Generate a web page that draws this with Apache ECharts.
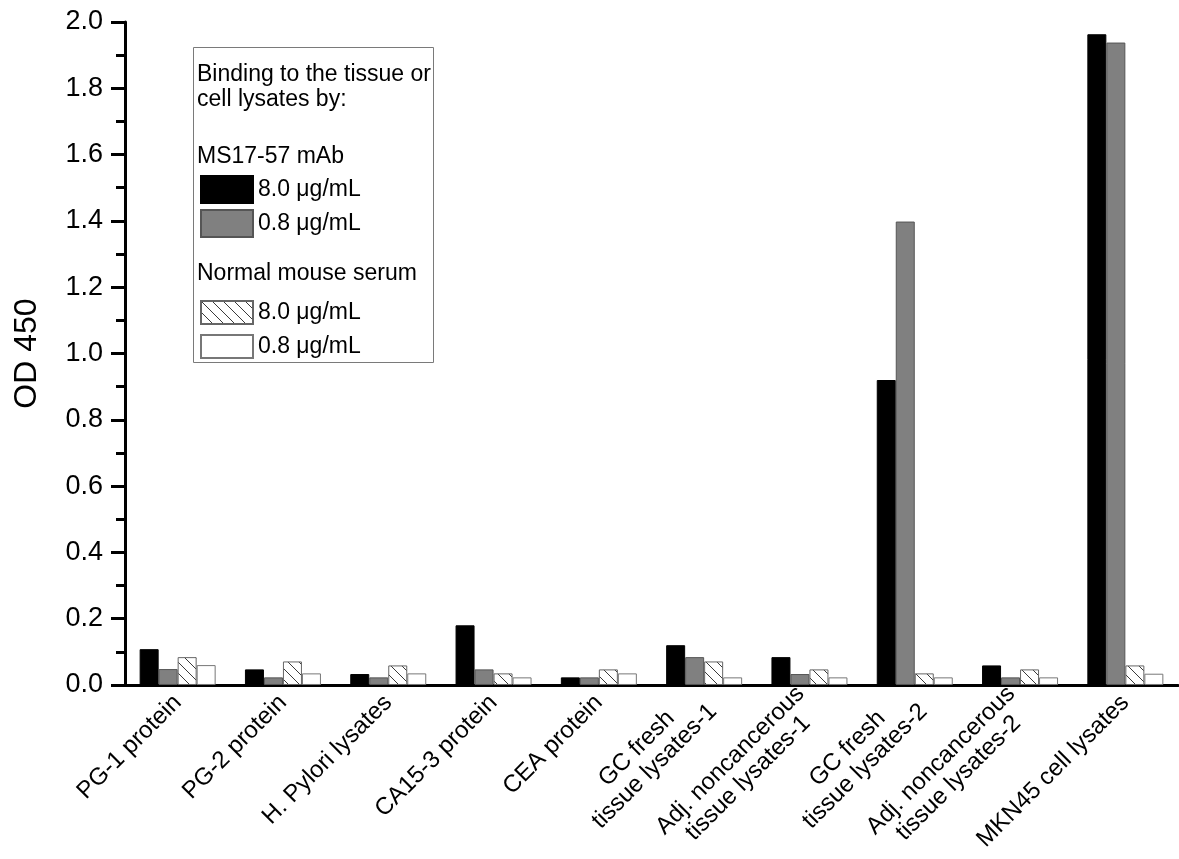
<!DOCTYPE html>
<html>
<head>
<meta charset="utf-8">
<script src="https://cdn.jsdelivr.net/npm/echarts@6/dist/echarts.min.js"></script>
<style>
  html, body { margin: 0; padding: 0; background: #fff; }
  #chart { width: 1179px; height: 859px; }
</style>
</head>
<body>
<div id="chart"></div>
<script>
// Samples on the x axis
const categories = [
  'PG-1 protein',
  'PG-2 protein',
  'H. Pylori lysates',
  'CA15-3 protein',
  'CEA protein',
  'GC fresh\ntissue lysates-1',
  'Adj. noncancerous\ntissue lysates-1',
  'GC fresh\ntissue lysates-2',
  'Adj. noncancerous\ntissue lysates-2',
  'MKN45 cell lysates'
];

// OD 450 readings
const mab80 = [0.108, 0.047, 0.033, 0.180, 0.023, 0.120, 0.084, 0.920, 0.059, 1.963];
const mab08 = [0.048, 0.023, 0.023, 0.047, 0.023, 0.084, 0.033, 1.398, 0.023, 1.938];
const nms80 = [0.084, 0.071, 0.059, 0.035, 0.047, 0.071, 0.047, 0.035, 0.047, 0.059];
const nms08 = [0.060, 0.035, 0.035, 0.023, 0.035, 0.023, 0.023, 0.023, 0.023, 0.034];

// Y axis scale
const yMin = 0;
const yMax = 2.0;
const yStep = 0.2;

const FONT = '"Liberation Sans", Arial, Helvetica, sans-serif';

// Diagonal "\" hatch used for the normal mouse serum 8.0 µg/mL bars
function hatchCanvas() {
  const s = 11;
  const c = document.createElement('canvas');
  c.width = s; c.height = s;
  const g = c.getContext('2d');
  g.fillStyle = '#ffffff';
  g.fillRect(0, 0, s, s);
  g.strokeStyle = '#3a3a3a';
  g.lineWidth = 1;
  g.beginPath();
  g.moveTo(-1, -1); g.lineTo(s + 1, s + 1);
  g.stroke();
  return c;
}
const hatch = { image: hatchCanvas(), repeat: 'repeat' };

const chart = echarts.init(document.getElementById('chart'), null, { renderer: 'canvas' });

const barBase = { type: 'bar', barWidth: 19, barGap: '0%' };
const legendText = { fontSize: 23, fontFamily: FONT, color: '#000' };
const legendLabel = name => name.split('|')[1];

chart.setOption({
  animation: false,
  backgroundColor: '#fff',
  textStyle: { fontFamily: FONT, color: '#000' },
  grid: { left: 125, right: 1, top: 22, bottom: 174, containLabel: false },
  legend: [
    {
      data: ['MS17-57 mAb|8.0 μg/mL', 'MS17-57 mAb|0.8 μg/mL'],
      orient: 'vertical', left: 200, top: 175, padding: 0,
      icon: 'rect', itemWidth: 52, itemHeight: 27, itemGap: 5,
      selectedMode: false, formatter: legendLabel, textStyle: legendText
    },
    {
      data: ['Normal mouse serum|8.0 μg/mL', 'Normal mouse serum|0.8 μg/mL'],
      orient: 'vertical', left: 200, top: 300, padding: 0,
      icon: 'rect', itemWidth: 52, itemHeight: 23, itemGap: 9,
      selectedMode: false, formatter: legendLabel, textStyle: legendText
    }
  ],
  graphic: [
    {
      type: 'rect', z: 1,
      shape: { x: 193.5, y: 47.5, width: 240, height: 315 },
      style: { fill: '#fff', stroke: '#7a7a7a', lineWidth: 1 }
    },
    {
      type: 'text', z: 2, left: 197, top: 62,
      style: { text: 'Binding to the tissue or\ncell lysates by:', font: '23px ' + FONT, fill: '#000', lineHeight: 25 }
    },
    {
      type: 'text', z: 2, left: 197, top: 145,
      style: { text: 'MS17-57 mAb', font: '23px ' + FONT, fill: '#000' }
    },
    {
      type: 'text', z: 2, left: 197, top: 262,
      style: { text: 'Normal mouse serum', font: '23px ' + FONT, fill: '#000' }
    }
  ],
  xAxis: {
    type: 'category',
    data: categories,
    axisLine: { lineStyle: { color: '#000', width: 3 } },
    axisTick: { alignWithLabel: true, length: 12, lineStyle: { color: '#000', width: 3 } },
    axisLabel: {
      interval: 0, rotate: 45, margin: 14, color: '#000',
      fontSize: 24, fontFamily: FONT,
      formatter: v => v.split('\n').map(s => '{c|' + s + '}').join('\n'),
      rich: { c: { align: 'center', fontSize: 24, lineHeight: 25, fontFamily: FONT, color: '#000' } }
    },
    splitLine: { show: false }
  },
  yAxis: {
    type: 'value',
    min: yMin, max: yMax, interval: yStep,
    name: 'OD 450', nameLocation: 'middle', nameRotate: 90, nameGap: 82,
    nameTextStyle: { fontSize: 32, fontFamily: FONT, color: '#000' },
    axisLine: { show: true, lineStyle: { color: '#000', width: 3 } },
    axisTick: { show: true, length: 14, lineStyle: { color: '#000', width: 3 } },
    minorTick: { show: true, splitNumber: 2, length: 9, lineStyle: { color: '#000', width: 3 } },
    axisLabel: { fontSize: 27, fontFamily: FONT, color: '#000', margin: 22, formatter: v => v.toFixed(1) },
    splitLine: { show: false }
  },
  series: [
    Object.assign({}, barBase, {
      name: 'MS17-57 mAb|8.0 μg/mL', data: mab80,
      itemStyle: { color: '#000000', borderColor: '#000000', borderWidth: 1 }
    }),
    Object.assign({}, barBase, {
      name: 'MS17-57 mAb|0.8 μg/mL', data: mab08,
      itemStyle: { color: '#808080', borderColor: '#555555', borderWidth: 1 }
    }),
    Object.assign({}, barBase, {
      name: 'Normal mouse serum|8.0 μg/mL', data: nms80,
      itemStyle: { color: hatch, borderColor: '#666666', borderWidth: 1 }
    }),
    Object.assign({}, barBase, {
      name: 'Normal mouse serum|0.8 μg/mL', data: nms08,
      itemStyle: { color: '#ffffff', borderColor: '#777777', borderWidth: 1 }
    })
  ]
});
</script>
</body>
</html>
